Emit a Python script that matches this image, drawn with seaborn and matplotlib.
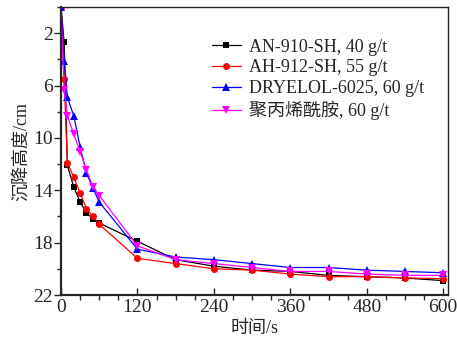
import matplotlib
matplotlib.use("Agg")
import matplotlib.pyplot as plt
import seaborn as sns
import pandas as pd
from matplotlib.ticker import MultipleLocator

sns.set_style("ticks")
plt.rcParams['font.family'] = ['Liberation Serif', 'Noto Sans CJK SC', 'DejaVu Sans']
plt.rcParams['axes.unicode_minus'] = False

series_names = ["AN-910-SH, 40 g/t", "AH-912-SH, 55 g/t",
                "DRYELOL-6025, 60 g/t", "聚丙烯酰胺, 60 g/t"]

time_s = [0, 5, 10, 20, 30, 40, 50, 60, 120, 180, 240, 300, 360, 420, 480, 540, 600]

h_an910 = [0, 2.7, 12.1, 13.75, 14.9, 15.7, 16.2, 16.5, 17.9, 19.3, 19.8, 20.1, 20.2, 20.5, 20.6, 20.7, 20.9]
h_ah912 = [0, 5.5, 11.9, 13.0, 14.2, 15.4, 16.0, 16.6, 19.2, 19.6, 20.0, 20.1, 20.4, 20.6, 20.6, 20.7, 20.75]
h_dryelol = [0, 4.1, 6.9, 8.3, 10.7, 12.7, 13.8, 14.9, 18.5, 19.1, 19.3, 19.6, 19.9, 19.9, 20.1, 20.2, 20.3]
h_pam = [0, 6.3, 8.3, 9.7, 11.05, 12.45, 13.75, 14.4, 18.25, 19.3, 19.6, 19.9, 20.2, 20.2, 20.4, 20.5, 20.5]

all_h = [h_an910, h_ah912, h_dryelol, h_pam]
colors = ["#000000", "#ff0000", "#0000ff", "#ff00ff"]
markers = ["s", "o", "^", "v"]
msizes = [4.0, 5.0, 5.2, 5.2]

rows = []
for name, hs in zip(series_names, all_h):
    for t, h in zip(time_s, hs):
        rows.append({"t": t, "h": h, "s": name})
df = pd.DataFrame(rows)

fig = plt.figure(figsize=(4.57, 3.49), dpi=100)
ax = fig.add_axes([61/457, 1-295/349, (448.3-61)/457, (295-7.1)/349])

for name, c, m, ms in zip(series_names, colors, markers, msizes):
    sub = df[df["s"] == name]
    sns.lineplot(data=sub, x="t", y="h", ax=ax, color=c, marker=m,
                 markersize=ms, markeredgewidth=0, linewidth=0.9,
                 label=name, sort=True)

ax.set_xlim(0, 608)
ax.set_ylim(22, 0)
ax.xaxis.set_major_locator(MultipleLocator(120))
ax.xaxis.set_minor_locator(MultipleLocator(30))
ax.set_yticks([2, 6, 10, 14, 18, 22])
ax.yaxis.set_minor_locator(MultipleLocator(2))

ax.tick_params(axis='x', which='major', direction='in', length=5, width=1, labelsize=14, pad=3)
ax.tick_params(axis='x', which='minor', direction='out', length=3.5, width=1)
ax.tick_params(axis='y', which='major', direction='out', length=5, width=1, labelsize=14, pad=1)
ax.tick_params(axis='y', which='minor', direction='out', length=3, width=1)
for sp in ax.spines.values():
    sp.set_linewidth(1.0)
ax.spines['bottom'].set_linewidth(1.6)
ax.spines['left'].set_linewidth(1.6)

ax.set_xlabel("时间/s", fontsize=13, labelpad=3)
ax.set_ylabel("沉降高度/cm", fontsize=13, labelpad=2)

leg = ax.legend(loc='upper left', bbox_to_anchor=(0.37, 0.915), frameon=False,
                fontsize=13, handlelength=1.65, handletextpad=0.4,
                labelspacing=0.2, borderaxespad=0)

fig.savefig("out.png", dpi=100)
